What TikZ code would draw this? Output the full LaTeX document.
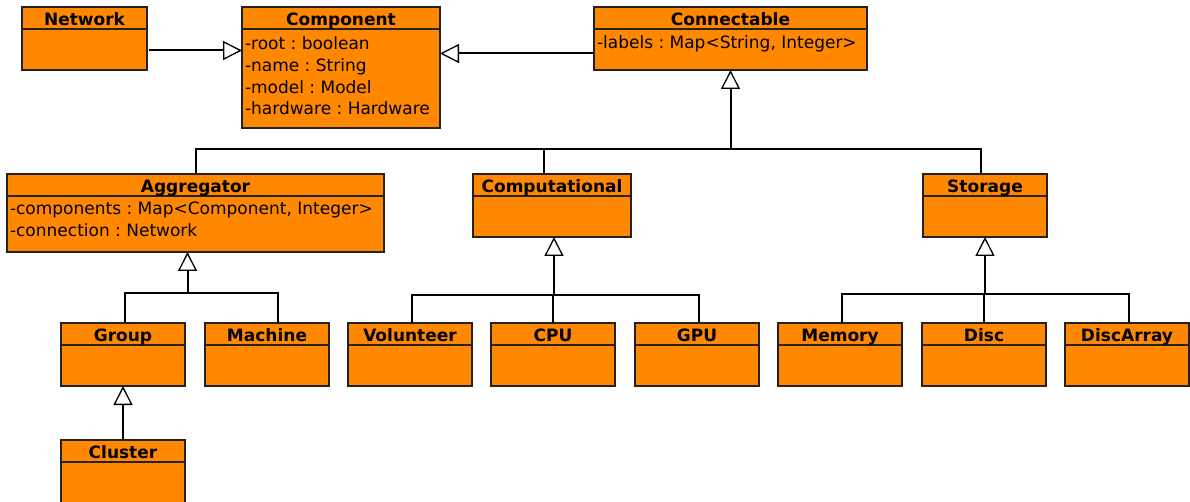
\documentclass[tikz,border=0pt]{standalone}
\usepackage{fontspec}
\setmainfont{DejaVu Sans}
\frenchspacing
\usetikzlibrary{arrows.meta}
\definecolor{clsfill}{RGB}{255,136,0}
\definecolor{clsline}{RGB}{34,34,34}
\tikzset{
  cls/.style={draw=clsline,fill=clsfill,line width=1.3pt,anchor=north west,inner sep=0pt,outer sep=0pt},
  clshead/.style={draw=clsline,line width=1.3pt},
  clstitle/.style={inner sep=0pt,outer sep=0pt,anchor=base,font=\bfseries\fontsize{17}{20}\selectfont},
  clsattr/.style={inner sep=0pt,outer sep=0pt,anchor=base west,font=\fontsize{17}{20}\selectfont},
  edge/.style={draw=black,line width=2pt},
  gen/.style={edge,-{Triangle[open,length=19pt,width=19pt,line width=1.3pt]}},
}
\begin{document}
\begin{tikzpicture}[x=1pt,y=-1pt]
\path[use as bounding box] (0,0) rectangle (1190,502);
% classes
\node[cls,minimum width=125,minimum height=63] (network) at (22,7) {};
\node[cls,minimum width=198,minimum height=121] (component) at (242,7) {};
\node[cls,minimum width=273,minimum height=63] (connectable) at (594,7) {};
\node[cls,minimum width=377,minimum height=78] (aggregator) at (7,174) {};
\node[cls,minimum width=158,minimum height=63] (computational) at (473,174) {};
\node[cls,minimum width=124,minimum height=63] (storage) at (923,174) {};
\node[cls,minimum width=124,minimum height=63] (group) at (61,323) {};
\node[cls,minimum width=124,minimum height=63] (machine) at (205,323) {};
\node[cls,minimum width=124,minimum height=63] (volunteer) at (348,323) {};
\node[cls,minimum width=124,minimum height=63] (cpu) at (491,323) {};
\node[cls,minimum width=124,minimum height=63] (gpu) at (635,323) {};
\node[cls,minimum width=124,minimum height=63] (memory) at (778,323) {};
\node[cls,minimum width=124,minimum height=63] (disc) at (922,323) {};
\node[cls,minimum width=124,minimum height=63] (discarray) at (1065,323) {};
\node[cls,minimum width=124,minimum height=70] (cluster) at (61,440) {};
% header lines and class names
\foreach \c/\t in {network/Network,component/Component,connectable/Connectable,
  aggregator/Aggregator,computational/Computational,storage/Storage,
  group/Group,machine/Machine,volunteer/Volunteer,cpu/CPU,gpu/GPU,
  memory/Memory,disc/Disc,discarray/DiscArray,cluster/Cluster}{
  \draw[clshead] ([yshift=-22pt]\c.north west) -- ([yshift=-22pt]\c.north east);
  \node[clstitle] (\c-title) at ([yshift=-18.5pt]\c.north) {\t};
}
% attributes
\node[clsattr] (component-root) at (245,50) {-root : boolean};
\node[clsattr] (component-name) at (245,71.7) {-name : String};
\node[clsattr] (component-model) at (245,93.3) {-model : Model};
\node[clsattr] (component-hardware) at (245,115) {-hardware : Hardware};
\node[clsattr] (connectable-labels) at (597,49) {-labels : Map<String, Integer>};
\node[clsattr] (aggregator-components) at (10,215) {-components : Map<Component, Integer>};
\node[clsattr] (aggregator-connection) at (10,237) {-connection : Network};
% generalisations
\draw[gen] ([xshift=2pt,yshift=-12pt]network.east) -- ([yshift=-12pt]network.east -| component.west);
\draw[gen] ([yshift=-15pt]connectable.west) -- ([yshift=-15pt]connectable.west -| component.east);
\coordinate (conj) at ([yshift=-79pt]connectable.south);
\draw[gen] (conj) -- (connectable.south);
\draw[edge] (aggregator.north) |- ([xshift=-4pt]storage.north |- conj) -- ([xshift=-4pt]storage.north);
\draw[edge] ([xshift=-8pt]computational.north) -- ([xshift=-8pt]computational.north |- conj);
\coordinate (aggj) at ([xshift=-8pt,yshift=-41pt]aggregator.south);
\draw[gen] (aggj) -- (aggj |- aggregator.south);
\draw[edge] ([xshift=2pt]group.north) |- ([xshift=11pt]machine.north |- aggj) -- ([xshift=11pt]machine.north);
\coordinate (compj) at ([xshift=2pt,yshift=-58pt]computational.south);
\draw[gen] (compj) -- (compj |- computational.south);
\draw[edge] ([xshift=2pt]volunteer.north) |- ([xshift=2pt]gpu.north |- compj) -- ([xshift=2pt]gpu.north);
\draw[edge] (cpu.north) -- (cpu.north |- compj);
\coordinate (storj) at ([yshift=-57pt]storage.south);
\draw[gen] (storj) -- (storage.south);
\draw[edge] ([xshift=2pt]memory.north) |- ([xshift=2pt]discarray.north |- storj) -- ([xshift=2pt]discarray.north);
\draw[edge] (disc.north) -- (disc.north |- storj);
\draw[gen] (cluster.north) -- (group.south);
\end{tikzpicture}
\end{document}
